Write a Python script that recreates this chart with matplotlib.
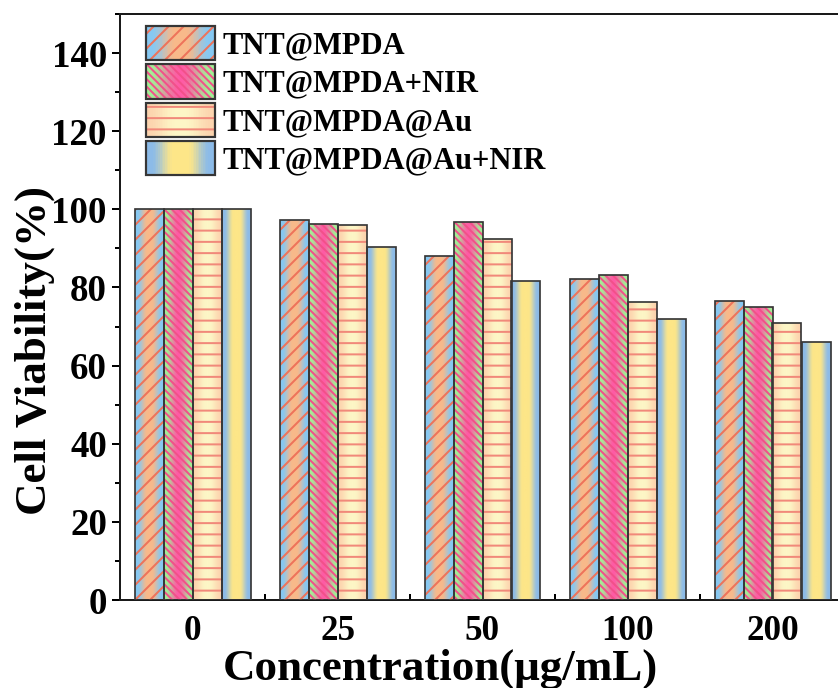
import numpy as np
import matplotlib
matplotlib.use("Agg")
import matplotlib.pyplot as plt
from matplotlib.patches import Rectangle
from matplotlib.legend_handler import HandlerBase
from matplotlib.ticker import MultipleLocator, FixedLocator

DPI = 135
W_PX, H_PX = 838, 688


def pt(px):
    """Convert a pixel size to points at the figure dpi."""
    return px * 72.0 / DPI


# ---- data -------------------------------------------------------------
concentrations = ["0", "25", "50", "100", "200"]
series_names = ["TNT@MPDA", "TNT@MPDA+NIR", "TNT@MPDA@Au", "TNT@MPDA@Au+NIR"]
tnt_mpda = [100, 97.3, 88.1, 82.2, 76.5]
tnt_mpda_nir = [100, 96.2, 96.7, 83.2, 74.9]
tnt_mpda_au = [100, 96.0, 92.4, 76.4, 70.8]
tnt_mpda_au_nir = [100, 90.3, 81.7, 71.9, 66.1]

# ---- styles -----------------------------------------------------------
# lo/hi: distance from the bar centre (0..1) where the fill starts and
# finishes blending from the middle colour to the edge colour
styles = [
    dict(edge="#86c8f2", mid="#f8b98a", lo=0.15, hi=0.85, hatch="///",
         hcolor="#ee735a"),
    dict(edge="#a2f095", mid="#ff5aa5", lo=0.0, hi=0.9, hatch="\\" * 6,
         hcolor="#f2508a"),
    dict(edge="#fcd4ae", mid="#fdf6c6", lo=0.1, hi=0.95, hatch="--",
         hcolor="#f1897a"),
    dict(edge="#8cbbe8", mid="#fde688", lo=0.2, hi=0.85, hatch=None,
         hcolor=None),
]
OUTLINE = "#363636"
FONT = "Liberation Serif"

plt.rcParams["font.family"] = [FONT, "DejaVu Serif"]
plt.rcParams["font.weight"] = "bold"
plt.rcParams["hatch.linewidth"] = pt(2.0)


def gradient_colors(style, n):
    e = np.array(matplotlib.colors.to_rgb(style["edge"]))
    m = np.array(matplotlib.colors.to_rgb(style["mid"]))
    u = (np.arange(n) + 0.5) / n
    d = np.abs(2 * u - 1)
    s = np.clip((d - style["lo"]) / (style["hi"] - style["lo"]), 0, 1)
    t = s * s * (3 - 2 * s)
    return (m[None, :] * (1 - t[:, None]) + e[None, :] * t[:, None])


class GradientHandler(HandlerBase):
    def __init__(self, style):
        super().__init__()
        self.style = style

    def create_artists(self, legend, orig_handle, xdescent, ydescent,
                       width, height, fontsize, trans):
        x0, y0 = -xdescent, -ydescent
        n = 40
        cols = gradient_colors(self.style, n)
        arts = []
        for i, c in enumerate(cols):
            arts.append(Rectangle((x0 + width * i / n, y0), width / n * 1.05,
                                  height, facecolor=c, edgecolor="none",
                                  lw=0, transform=trans))
        if self.style["hatch"]:
            arts.append(Rectangle((x0, y0), width, height, facecolor="none",
                                  edgecolor=self.style["hcolor"], lw=0,
                                  hatch=self.style["hatch"], transform=trans))
        arts.append(Rectangle((x0, y0), width, height, facecolor="none",
                              edgecolor=OUTLINE, lw=pt(2.2), transform=trans))
        return arts


fig = plt.figure(figsize=(W_PX / DPI, H_PX / DPI), dpi=DPI)
ax = fig.add_axes([120 / W_PX, 88 / H_PX, 725 / W_PX, 586 / H_PX])

values = [tnt_mpda, tnt_mpda_nir, tnt_mpda_au, tnt_mpda_au_nir]
x = np.arange(len(concentrations))
bw = 0.2
handles = []
handler_map = {}
for k, (vals, st) in enumerate(zip(values, styles)):
    pos = x + (k - 1.5) * bw
    outline = ax.bar(pos, vals, bw, facecolor="none", edgecolor=OUTLINE,
                     linewidth=pt(1.7), zorder=4)
    if st["hatch"]:
        ax.bar(pos, vals, bw, facecolor="none", edgecolor=st["hcolor"],
               linewidth=0, hatch=st["hatch"], zorder=3)
    grad = gradient_colors(st, 64)[None, :, :]
    for rect in outline.patches:
        x0, w, h = rect.get_x(), rect.get_width(), rect.get_height()
        im = ax.imshow(grad, extent=[x0, x0 + w, 0, h], aspect="auto",
                       interpolation="bilinear", zorder=2)
        im.set_clip_path(rect)
    handles.append(outline)
    handler_map[outline] = GradientHandler(st)

ax.set_xlim(-0.5, 4.5)
ax.set_ylim(0, 150)
ax.set_aspect("auto")

# ---- axes styling -----------------------------------------------------
for side in ["left", "bottom", "top", "right"]:
    ax.spines[side].set_linewidth(pt(2.0))
    ax.spines[side].set_color("#1a1a1a")

ax.yaxis.set_major_locator(MultipleLocator(20))
ax.yaxis.set_minor_locator(MultipleLocator(10))
ax.tick_params(axis="y", which="major", direction="out", length=pt(8),
               width=pt(2), pad=pt(5), labelsize=pt(37))
ax.tick_params(axis="y", which="minor", direction="out", length=pt(5),
               width=pt(2))
ax.set_xticks(x)
ax.set_xticklabels(concentrations)
ax.xaxis.set_minor_locator(FixedLocator(x[:-1] + 0.5))
ax.tick_params(axis="x", which="major", length=0, pad=pt(15),
               labelsize=pt(35))
ax.tick_params(axis="x", which="minor", direction="in", length=pt(6),
               width=pt(2))
for lab in ax.get_xticklabels() + ax.get_yticklabels():
    lab.set_fontweight("bold")

ax.set_xlabel("Concentration(μg/mL)", fontsize=pt(45), fontweight="bold")
ax.xaxis.set_label_coords((440 - 120) / 725, -0.083)
ax.set_ylabel("Cell Viability(%)", fontsize=pt(45), fontweight="bold",
              va="center")
ax.yaxis.set_label_coords((35 - 120) / 725, 0.425)

leg = ax.legend(handles, series_names, handler_map=handler_map,
                loc="upper left", bbox_to_anchor=(26 / 725, 1 - 12 / 586),
                frameon=False, borderpad=0, borderaxespad=0,
                prop=dict(family=FONT, weight="bold", size=pt(30.5)),
                handlelength=69 / 30.5, handleheight=1.34,
                labelspacing=0.14, handletextpad=0.25)

fig.savefig("out.png", dpi=DPI)
